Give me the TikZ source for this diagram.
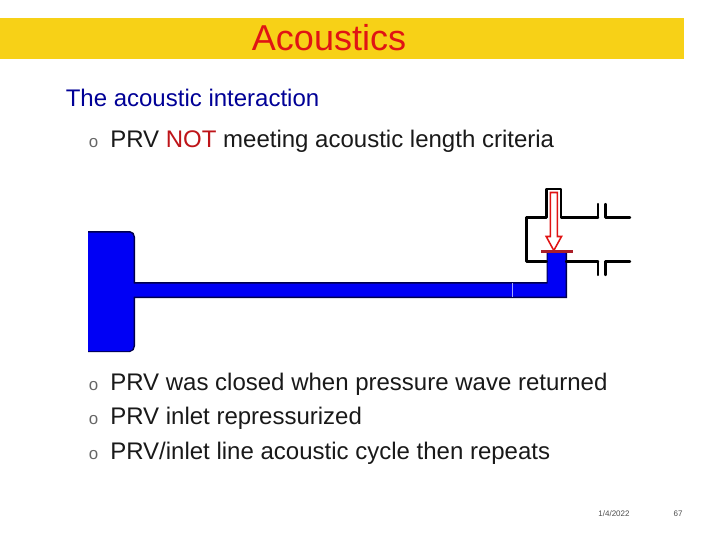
\documentclass[tikz,border=0pt]{standalone}
\usepackage{fontspec}
\setmainfont{Liberation Sans}
\usepackage{xcolor}
\definecolor{band}{RGB}{247,209,23}
\definecolor{pipeblue}{RGB}{0,0,245}
\definecolor{headblue}{RGB}{0,0,150}
\definecolor{titlered}{RGB}{224,20,20}
\definecolor{notred}{RGB}{190,20,25}
\definecolor{prvred}{RGB}{170,30,40}
\tikzset{body/.style={anchor=base west,inner sep=0pt,font=\fontsize{17.07pt}{20pt}\selectfont,text=black!90},
    dot/.style={anchor=base,inner sep=0pt,font=\fontsize{12pt}{14pt}\selectfont,text=black!60},
    tiny/.style={anchor=base,inner sep=0pt,font=\fontsize{5.7pt}{7pt}\selectfont,text=black!70},
    pipe/.style={draw=black,line width=1.7pt,line cap=round,line join=round}}

\begin{document}
\begin{tikzpicture}[x=0.025cm,y=-0.025cm]
    \useasboundingbox (0,0) rectangle (720,540);
    \fill[band] (0,18) rectangle (684,59);
    \node[anchor=base,inner sep=0pt,text=titlered,font=\fontsize{25.6pt}{30pt}\selectfont] (title) at (329,50) {Acoustics};

    \node[body,text=headblue] (head) at (65.5,106) {The acoustic interaction};
    \node[dot] (o1) at (93.5,147) {o};
    \node[body] (t1) at (110,147) {PRV \textcolor{notred}{NOT} meeting acoustic length criteria};
    \node[dot] (o2) at (93.5,390) {o};
    \node[body] (t2) at (110,390) {PRV was closed when pressure wave returned};
    \node[dot] (o3) at (93.5,424) {o};
    \node[body] (t3) at (110,424) {PRV inlet repressurized};
    \node[dot] (o4) at (93.5,459) {o};
    \node[body] (t4) at (110,459) {PRV/inlet line acoustic cycle then repeats};

    % blue liquid
    \fill[black!70!blue] (88,231) -- (130,231) to[out=0,in=90] (135,237) -- (135,282) -- (546.5,282) -- (546.5,252)
        -- (567,252) -- (567,298) -- (135,298) -- (135,346) to[out=-90,in=0] (130,352) -- (88,352) -- cycle;
    \fill[pipeblue] (88,232.5) -- (129,232.5) to[out=0,in=90] (133.5,237) -- (133.5,283.5) -- (547.5,283.5) -- (547.5,252)
        -- (565.5,252) -- (565.5,296.5) -- (133.5,296.5) -- (133.5,346) to[out=-90,in=0] (129,351) -- (88,351) -- cycle;
    \draw[blue!35!white,line width=0.4pt] (512.5,283) -- (512.5,297);

    % valve body and side pipe
    \draw[pipe] (598,217.5) -- (561,217.5) -- (561,189) -- (546.5,189) -- (546.5,217.5) -- (526.5,217.5)
        -- (526.5,261.5) -- (546.5,261.5);
    \draw[pipe] (566,261.5) -- (598,261.5);
    \draw[pipe] (598,204) -- (598,217.5);
    \draw[pipe] (598,261.5) -- (598,275);
    \draw[pipe] (605.5,204) -- (605.5,217.5) -- (630,217.5);
    \draw[pipe] (605.5,275) -- (605.5,261.5) -- (630,261.5);

    % valve arrow and seat
    \draw[titlered,line width=1.1pt,fill=white,line join=miter] (550.3,192.5) -- (557.3,192.5) -- (557.3,236.5) -- (561.5,236.5)
        -- (553.8,250.5) -- (546.2,236.5) -- (550.3,236.5) -- cycle;
    \draw[prvred,line width=1.5pt] (541,251.5) -- (573,251.5);

    \node[tiny] (date) at (614,516) {1/4/2022};
    \node[tiny] (page) at (678,516) {67};
\end{tikzpicture}
\end{document}
